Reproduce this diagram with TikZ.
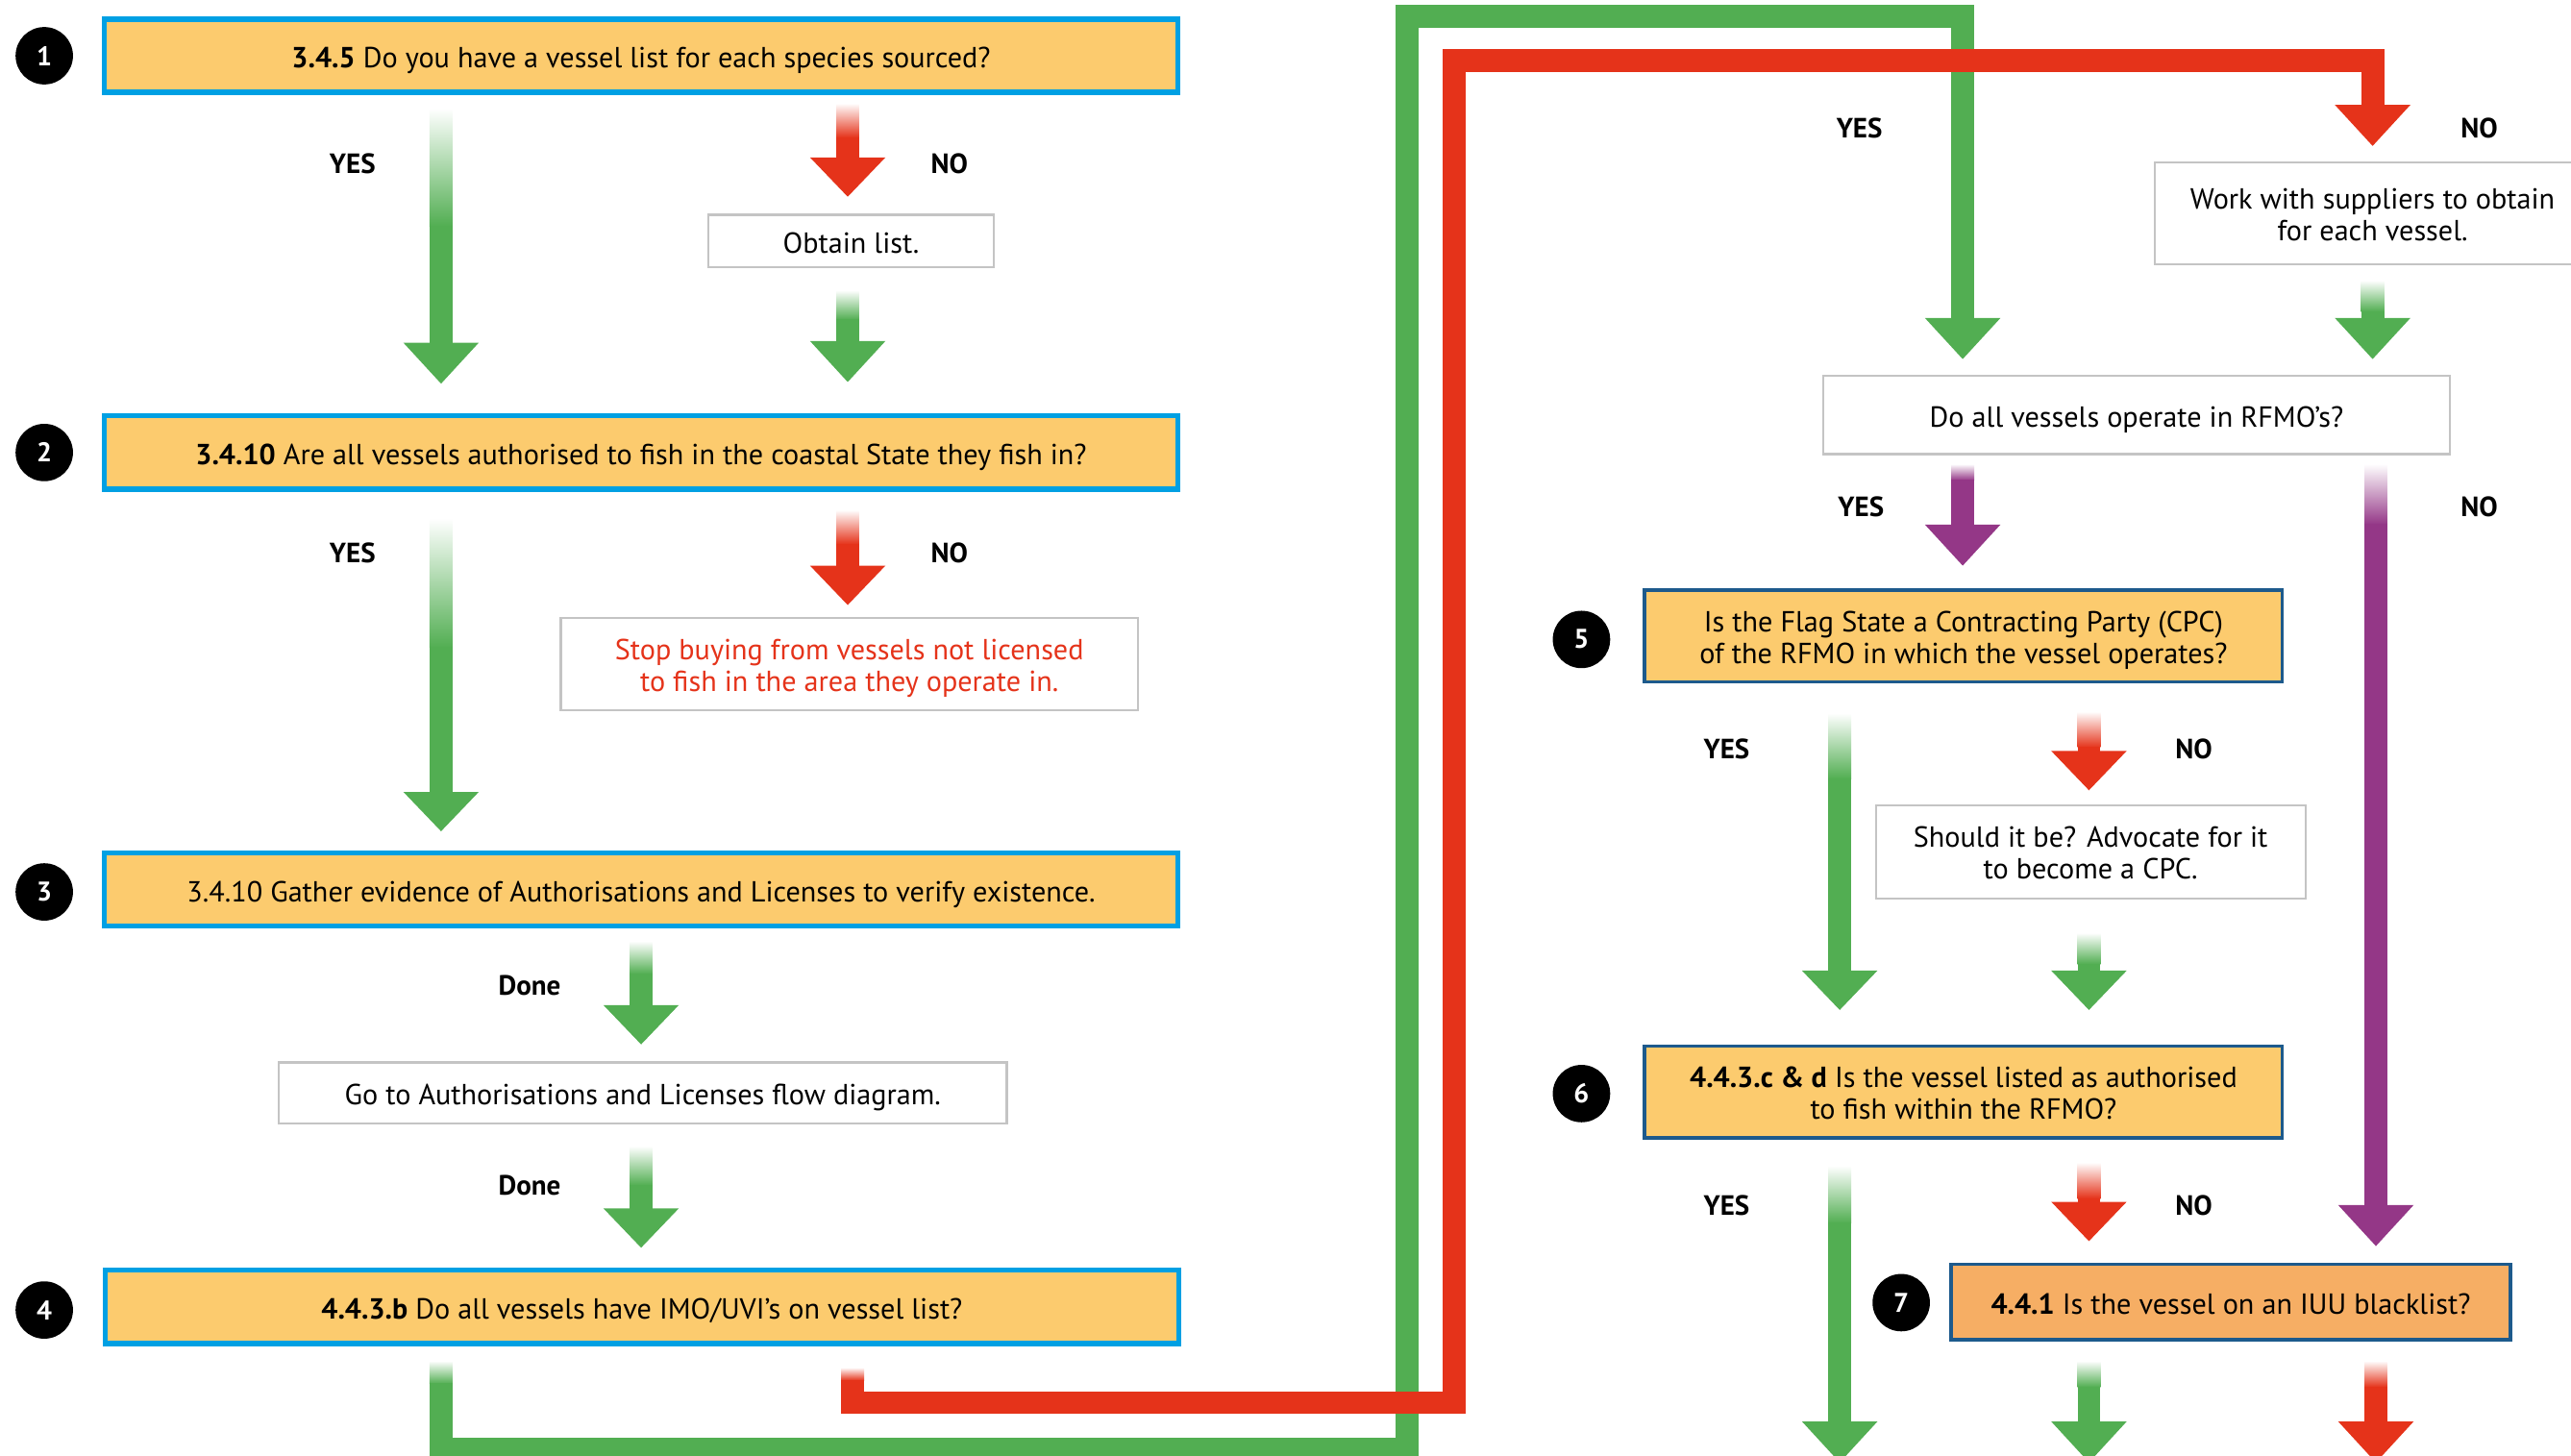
\documentclass[tikz,border=0pt]{standalone}
\usepackage{fontspec}
\setmainfont{PT Sans}
\definecolor{qgreen}{HTML}{52AE52}
\definecolor{qred}{HTML}{E5331A}
\definecolor{qpurple}{HTML}{943787}
\definecolor{qblue}{HTML}{00A0E3}
\definecolor{qdblue}{HTML}{1D5A8C}
\definecolor{qorange}{HTML}{FCCB6E}
\definecolor{qorange2}{HTML}{F6AE64}
\definecolor{qgray}{HTML}{C4C4C4}
\newcommand\fadearrow[6]{%
  \shade[top color=white, bottom color=#1] (#2-7,#3) rectangle (#2+7,#4);
  \fill[#1] (#2-7,#4-0.3) rectangle (#2+7,#5+0.5);
  \fill[#1] (#2-23,#5) -- (#2+23,#5) -- (#2,#6) -- cycle;}
\newcommand\qstrut{\rule[-5pt]{0pt}{25pt}}
\newcommand\qstrutb{\rule{0pt}{19pt}}
\begin{document}
\begin{tikzpicture}[x=1pt,y=-1pt,
  txt/.style={inner sep=0pt, font=\fontsize{17.7}{19.6}\selectfont, align=center, execute at begin node={\qstrut}},
  qbox/.style={txt, draw=qblue, line width=3.2pt, fill=qorange, minimum width=654.8pt, minimum height=44.8pt},
  rbox/.style={txt, draw=qdblue, line width=2pt, fill=qorange},
  tbox/.style={txt, draw=qgray, line width=1.3pt, fill=white},
  num/.style={circle, fill=black, text=white, minimum size=35pt, inner sep=0pt, font=\bfseries\fontsize{16.5}{16.5}\selectfont},
  lbl/.style={inner sep=0pt, font=\bfseries\fontsize{17}{17}\selectfont},
  conn/.style={line width=14pt, miter limit=10}
]
\useasboundingbox (0,0) rectangle (1568,888);
\clip (0,0) rectangle (1568,888);

% ---- left column boxes
\node[qbox] (b1) at (391,34) {\textbf{3.4.5} Do you have a vessel list for each species sourced?};
\node[qbox] (b2) at (391,276) {\textbf{3.4.10} Are all vessels authorised to fish in the coastal State they fish in?};
\node[qbox] (b3) at (391,542.5) {3.4.10 Gather evidence of Authorisations and Licenses to verify existence.};
\node[qbox] (b4) at (391.5,797) {\textbf{4.4.3.b} Do all vessels have IMO/UVI’s on vessel list?};

\node[num] (n1) at (27,34) {1};
\node[num] (n2) at (27,276) {2};
\node[num] (n3) at (27,544) {3};
\node[num] (n4) at (27,799) {4};

\node[tbox, minimum width=174pt, minimum height=32pt] (obt) at (519,147) {Obtain list.};
\node[tbox, minimum width=352pt, minimum height=56pt, text=qred] (stop) at (518,405) {\qstrutb Stop buying from vessels not licensed\\to fish in the area they operate in.};
\node[tbox, minimum width=444pt, minimum height=37pt] (goto) at (392,666.5) {Go to Authorisations and Licenses flow diagram.};

% ---- left arrows
\fadearrow{qgreen}{269}{66}{138}{209}{234}
\fadearrow{qred}{517}{63}{84}{96}{120}
\fadearrow{qgreen}{517}{177}{195}{208}{233}
\fadearrow{qgreen}{269}{316}{395}{483}{507}
\fadearrow{qred}{517}{311}{332}{345}{369}
\fadearrow{qgreen}{391}{574}{594}{613}{637}
\fadearrow{qgreen}{391}{699}{723}{737}{761}

\node[lbl] (y1) at (215,100) {YES};
\node[lbl] (no1) at (579,100) {NO};
\node[lbl] (y2) at (215,337) {YES};
\node[lbl] (no2) at (579,337) {NO};
\node[lbl] (d1) at (323,601) {Done};
\node[lbl] (d2) at (323,723) {Done};

% ---- big connectors from box 4
\shade[top color=white, bottom color=qgreen] (262,830) rectangle (276,844);
\draw[conn, qgreen] (269,843.7) -- (269,884) -- (858,884) -- (858,10) -- (1197,10) -- (1197,194.5);
\fill[qgreen] (1174,194) -- (1220,194) -- (1197,219) -- cycle;
\shade[top color=white, bottom color=qred] (513,834) rectangle (527,842);
\draw[conn, qred] (520,841.7) -- (520,855.5) -- (887,855.5) -- (887,37) -- (1447,37) -- (1447,64.5);
\fill[qred] (1424,64) -- (1470,64) -- (1447,89) -- cycle;

% ---- right column
\node[lbl] (y3) at (1134,78) {YES};
\node[lbl] (no3) at (1512,78) {NO};
\node[tbox, minimum width=266pt, minimum height=62pt] (work) at (1447,130) {\qstrutb Work with suppliers to obtain\\for each vessel.};
\fadearrow{qgreen}{1447}{171}{190}{194}{219}
\node[tbox, minimum width=382pt, minimum height=48pt] (doall) at (1303,253) {Do all vessels operate in RFMO’s?};

\fadearrow{qpurple}{1197}{283}{293}{320}{345}
\fadearrow{qpurple}{1449}{283}{320}{735}{760}
\node[lbl] (y4) at (1135,309) {YES};
\node[lbl] (no4) at (1512,309) {NO};

\node[rbox, minimum width=389pt, minimum height=56pt] (b5) at (1197.5,388) {\qstrutb Is the Flag State a Contracting Party (CPC)\\of the RFMO in which the vessel operates?};
\node[num] (n5) at (964.5,390) {5};

\fadearrow{qgreen}{1122}{435}{475}{592}{616}
\fadearrow{qred}{1274}{434}{456}{458}{482}
\node[lbl] (y5) at (1053,457) {YES};
\node[lbl] (no5) at (1338,457) {NO};
\node[tbox, minimum width=262pt, minimum height=57pt] (should) at (1275,519.5) {\qstrutb Should it be? Advocate for it\\to become a CPC.};
\fadearrow{qgreen}{1274}{569}{588}{592}{616}

\node[rbox, minimum width=389pt, minimum height=56pt] (b6) at (1197.5,666) {\qstrutb\textbf{4.4.3.c \& d} Is the vessel listed as authorised\\to fish within the RFMO?};
\node[num] (n6) at (964.5,667) {6};

\fadearrow{qgreen}{1122}{711}{746}{867}{892}
\fadearrow{qred}{1274}{709}{731}{733}{757}
\node[lbl] (y6) at (1053,735) {YES};
\node[lbl] (no6) at (1338,735) {NO};

\node[rbox, fill=qorange2, minimum width=341pt, minimum height=46pt] (b7) at (1360.5,794) {\textbf{4.4.1} Is the vessel on an IUU blacklist?};
\node[num] (n7) at (1159.5,794.5) {7};

\fadearrow{qgreen}{1274}{830}{846}{867}{892}
\fadearrow{qred}{1449}{830}{846}{867}{892}
\end{tikzpicture}
\end{document}
